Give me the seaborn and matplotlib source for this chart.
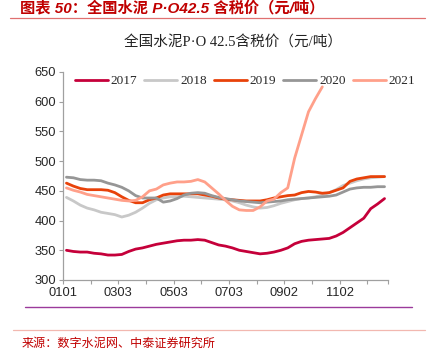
import matplotlib
matplotlib.use("Agg")
import matplotlib.pyplot as plt
import seaborn as sns
import pandas as pd
import numpy as np

sns.set_theme(style="white")
plt.rcParams['font.family'] = ['Liberation Sans', 'Noto Sans CJK SC', 'DejaVu Sans']

# weekly national P.O 42.5 cement price, yuan/ton
y2017 = [350, 348, 347, 347, 345, 344, 342, 342, 343, 348, 352, 354, 357, 360, 362, 364,
         366, 367, 367, 368, 367, 363, 359, 357, 354, 350, 348, 346, 344, 345, 347, 350,
         354, 361, 365, 367, 368, 369, 370, 374, 380, 388, 396, 404, 420, 428, 437]
y2018 = [439, 433, 426, 421, 418, 414, 412, 410, 406, 409, 414, 421, 429, 435, 438, 440,
         440, 441, 440, 439, 438, 437, 436, 435, 433, 430, 426, 423, 421, 422, 425, 429,
         432, 435, 437, 438, 440, 443, 447, 452, 459, 463, 467, 470, 472, 473, 474]
y2019 = [463, 458, 454, 452, 452, 452, 451, 447, 440, 434, 430, 430, 435, 438, 443, 445,
         445, 445, 445, 445, 443, 441, 438, 436, 435, 434, 433, 433, 433, 435, 438, 440,
         442, 443, 447, 449, 448, 446, 447, 451, 455, 466, 470, 472, 474, 474, 474]
y2020 = [473, 472, 469, 468, 468, 467, 463, 460, 456, 450, 442, 438, 438, 438, 431, 433,
         437, 443, 446, 447, 446, 442, 439, 437, 435, 433, 432, 431, 430, 431, 432, 433,
         435, 436, 437, 438, 439, 440, 441, 443, 448, 453, 455, 456, 456, 457, 457]
y2021 = [455, 451, 448, 444, 442, 440, 438, 436, 434, 433, 434, 440, 450, 453, 460, 463,
         465, 465, 466, 469, 465, 455, 445, 434, 424, 418, 417, 417, 423, 433, 436, 447,
         455, 505, 544, 583, 605, 625]

tick_labels = ['0101', '0303', '0503', '0703', '0902', '1102']

series = {'2017': y2017, '2018': y2018, '2019': y2019, '2020': y2020, '2021': y2021}
colors = {'2017': '#C5003A', '2018': '#C8C8C8', '2019': '#E8420A',
          '2020': '#969696', '2021': '#FFA08A'}

rows = []
for year, vals in series.items():
    for i, v in enumerate(vals):
        rows.append({'week': i, 'price': v, 'year': year})
df = pd.DataFrame(rows)

fig = plt.figure(figsize=(4.28, 3.5), dpi=100)
ax = fig.add_axes([63/428, 1-280/350, 325/428, 208/350])

sns.lineplot(data=df, x='week', y='price', hue='year', palette=colors,
             linewidth=2.0, ax=ax, legend=True)

ax.set_xlim(-0.5, 46.5)
ax.set_ylim(300, 650)
ax.set_yticks(np.arange(300, 651, 50))
ax.set_xticks([-0.5 + 4*k for k in range(12)] + [46.5])
ax.set_xticklabels([tick_labels[k//2] if k % 2 == 0 else '' for k in range(12)] + [''])
ax.tick_params(axis='both', which='both', direction='out', length=3, width=0.8,
               color='#A0A0A0', labelsize=9.3, pad=2, bottom=True, left=True)
ax.set_xlabel('')
ax.set_ylabel('')
for s in ['top', 'right']:
    ax.spines[s].set_visible(False)
for s in ['left', 'bottom']:
    ax.spines[s].set_color('#A0A0A0')
    ax.spines[s].set_linewidth(0.9)

leg = ax.legend(loc='upper left', bbox_to_anchor=(8/325, 1.005), ncol=5, frameon=False,
                handlelength=2.5, handletextpad=0.2, columnspacing=0.55,
                prop={'family': 'Liberation Serif', 'size': 9.5}, borderaxespad=0.1,
                borderpad=0.2)
for line in leg.get_lines():
    line.set_linewidth(2.0)

# header and chart title
fig.text(20/428, 1-8/350, '图表 50：全国水泥 P·O42.5 含税价（元/吨）', color='#C00000',
         fontsize=11, fontweight='bold', style='italic', va='center', ha='left',
         family=['Liberation Sans', 'Noto Sans CJK SC', 'DejaVu Sans'])
fig.add_artist(plt.Line2D([10/428, 425/428], [1-17.5/350, 1-17.5/350], color='#E07070', lw=0.9))
fig.text(233/428, 1-43/350, '全国水泥P·O 42.5含税价（元/吨）', color='#222222',
         fontsize=10.5, va='center', ha='center',
         family=['Liberation Serif', 'Noto Sans CJK SC', 'DejaVu Sans'])

# footer
fig.add_artist(plt.Line2D([25/428, 412/428], [1-307/350, 1-307/350], color='#9B3A9B', lw=1.0))
fig.add_artist(plt.Line2D([13/428, 425/428], [1-329.5/350, 1-329.5/350], color='#F2B8B0', lw=0.9))
fig.text(22/428, 1-343/350, '来源：数字水泥网、中泰证券研究所', color='#C00000',
         fontsize=8.7, va='center', ha='left', family=['Noto Sans CJK SC', 'DejaVu Sans'])

fig.savefig('out.png', dpi=100)
